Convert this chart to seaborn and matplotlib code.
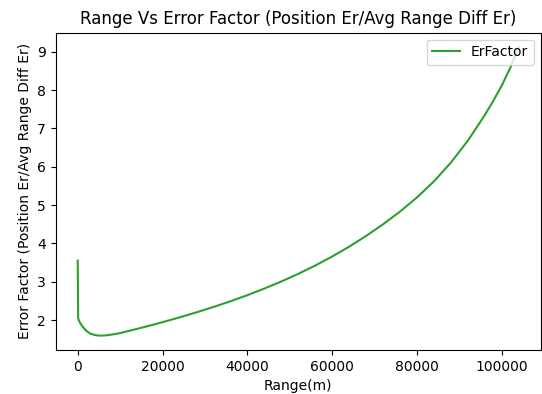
import matplotlib
matplotlib.use("Agg")
import matplotlib.pyplot as plt
import seaborn as sns
import pandas as pd

range_m = [0, 100, 300, 700, 1200, 2000, 3000, 4000, 5000, 6000, 7000, 8500,
           10000, 12000, 14000, 16000, 18000, 20000, 24000, 28000, 32000,
           36000, 40000, 44000, 48000, 52000, 56000, 60000, 64000, 68000,
           72000, 76000, 80000, 84000, 88000, 92000, 96000, 98000, 100000,
           102000, 104000]
er_factor = [3.55, 2.05, 1.98, 1.90, 1.82, 1.72, 1.645, 1.61, 1.595, 1.595,
             1.605, 1.63, 1.66, 1.715, 1.77, 1.827, 1.885, 1.945, 2.069,
             2.201, 2.341, 2.489, 2.649, 2.821, 3.005, 3.205, 3.421, 3.657,
             3.913, 4.193, 4.497, 4.829, 5.197, 5.617, 6.105, 6.677, 7.345,
             7.715, 8.115, 8.575, 9.12]

df = pd.DataFrame({"Range(m)": range_m, "ErFactor": er_factor})

fig = plt.figure(figsize=(5.42, 3.94), dpi=100)
ax = fig.add_axes([55.7 / 542, 1 - 350 / 394, (540.7 - 55.7) / 542, (350 - 32.7) / 394])
sns.lineplot(data=df, x="Range(m)", y="ErFactor", color="#2ca02c", linewidth=1.5,
             label="ErFactor", ax=ax)
ax.set_title("Range Vs Error Factor (Position Er/Avg Range Diff Er)", fontsize=12)
ax.set_xlabel("Range(m)", fontsize=10)
ax.set_ylabel("Error Factor (Position Er/Avg Range Diff Er)", fontsize=10)
ax.legend(loc="upper right")
fig.savefig("out.png", dpi=100)
